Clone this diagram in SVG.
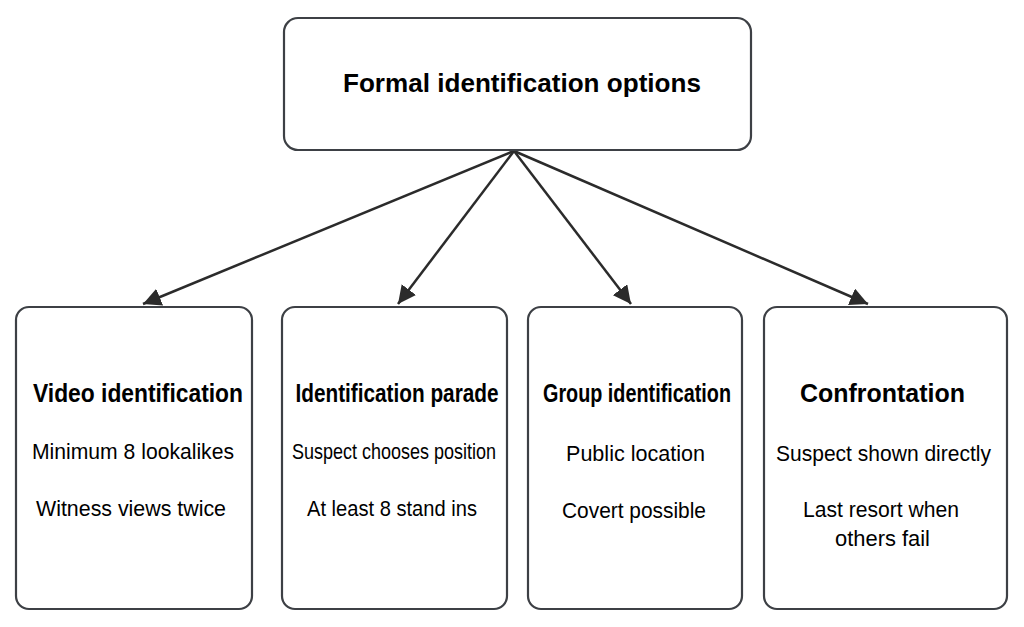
<svg xmlns="http://www.w3.org/2000/svg" width="1024" height="627" viewBox="0 0 1024 627">
<style>
.box{fill:#fff;stroke:#3d4045;stroke-width:2.2}
.t{font-family:"Liberation Sans",Arial,sans-serif;fill:#000;text-anchor:middle}
.h{font-weight:bold;font-size:26px}
.b{font-size:22px}
.c{stroke:#2b2b2b;stroke-width:2.5;fill:none;marker-end:url(#ah)}
</style>
<defs>
<marker id="ah" markerUnits="userSpaceOnUse" markerWidth="19" markerHeight="18" refX="18" refY="9" orient="auto">
<path d="M0,0 L18,9 L0,18 z" fill="#2b2b2b"/>
</marker>
</defs>
<rect width="1024" height="627" fill="#fff"/>
<g id="connectors">
<line class="c" x1="514" y1="151" x2="143" y2="304"/>
<line class="c" x1="514" y1="151" x2="398" y2="304"/>
<line class="c" x1="514" y1="151" x2="631" y2="304"/>
<line class="c" x1="514" y1="151" x2="868" y2="304"/>
</g>
<g id="root">
<rect class="box" x="284" y="18" width="467" height="132" rx="14"/>
<text class="t h" x="522" y="92" textLength="358" lengthAdjust="spacingAndGlyphs">Formal identification options</text>
</g>
<g id="video">
<rect class="box" x="16" y="307" width="236" height="302" rx="13"/>
<text class="t h" x="138" y="402" textLength="210" lengthAdjust="spacingAndGlyphs">Video identification</text>
<text class="t b" x="133" y="459" textLength="202" lengthAdjust="spacingAndGlyphs">Minimum 8 lookalikes</text>
<text class="t b" x="131" y="516" textLength="190" lengthAdjust="spacingAndGlyphs">Witness views twice</text>
</g>
<g id="parade">
<rect class="box" x="282" y="307" width="225" height="302" rx="13"/>
<text class="t h" x="397" y="402" textLength="203" lengthAdjust="spacingAndGlyphs">Identification parade</text>
<text class="t b" x="394" y="459" textLength="204" lengthAdjust="spacingAndGlyphs">Suspect chooses position</text>
<text class="t b" x="392" y="516" textLength="170" lengthAdjust="spacingAndGlyphs">At least 8 stand ins</text>
</g>
<g id="group">
<rect class="box" x="528" y="307" width="214" height="302" rx="13"/>
<text class="t h" x="637" y="402" textLength="188" lengthAdjust="spacingAndGlyphs">Group identification</text>
<text class="t b" x="635.5" y="461" textLength="139" lengthAdjust="spacingAndGlyphs">Public location</text>
<text class="t b" x="634" y="518" textLength="144" lengthAdjust="spacingAndGlyphs">Covert possible</text>
</g>
<g id="confrontation">
<rect class="box" x="764" y="307" width="243" height="302" rx="13"/>
<text class="t h" x="882.5" y="402" textLength="165" lengthAdjust="spacingAndGlyphs">Confrontation</text>
<text class="t b" x="883.5" y="461" textLength="215" lengthAdjust="spacingAndGlyphs">Suspect shown directly</text>
<text class="t b" x="881" y="517" textLength="156" lengthAdjust="spacingAndGlyphs">Last resort when</text>
<text class="t b" x="882.5" y="546" textLength="95" lengthAdjust="spacingAndGlyphs">others fail</text>
</g>
</svg>
